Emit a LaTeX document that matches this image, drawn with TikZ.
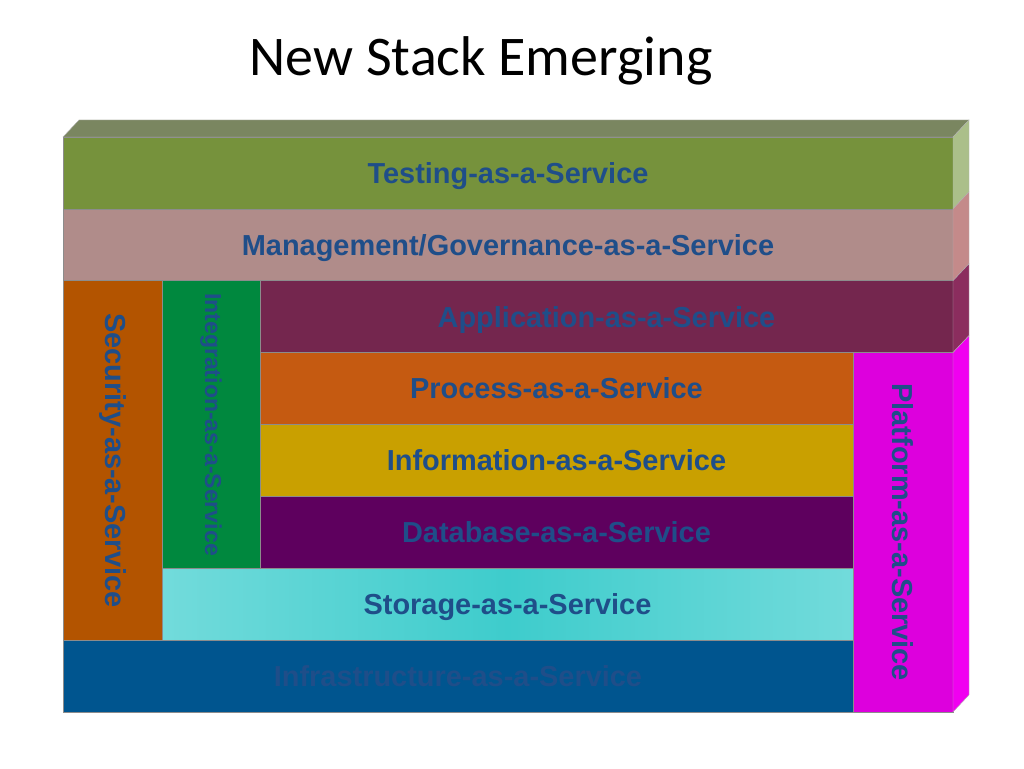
\documentclass[tikz,border=0pt]{standalone}
\usepackage{fontspec}
\usepackage{graphicx}
\usetikzlibrary{positioning}
\newfontfamily\titlefont{Carlito}
\newfontfamily\labelfont{Liberation Sans}

\definecolor{txtblue}{HTML}{1F4E89}
\definecolor{topface}{HTML}{7A8660}
\definecolor{testgreen}{HTML}{76923C}
\definecolor{testside}{HTML}{ABBF8A}
\definecolor{mgmtrose}{HTML}{B08C8A}
\definecolor{mgmtside}{HTML}{C48A8A}
\definecolor{appwine}{HTML}{74264E}
\definecolor{appside}{HTML}{8B2D5E}
\definecolor{procorange}{HTML}{C55A11}
\definecolor{infomustard}{HTML}{C9A000}
\definecolor{dbpurple}{HTML}{5E005E}
\definecolor{storcyan}{HTML}{3ECCCC}
\definecolor{storlight}{HTML}{72DBDB}
\definecolor{infrablue}{HTML}{00558F}
\definecolor{secorange}{HTML}{B35400}
\definecolor{intgreen}{HTML}{00883E}
\definecolor{platmagenta}{HTML}{DD00DD}
\definecolor{platside}{HTML}{F000F0}

\begin{document}
\begin{tikzpicture}[
    x=1pt, y=1pt,
    node distance=0pt,
    layer/.style={
        rectangle,
        draw=black!45,
        line width=0.4pt,
        inner sep=0pt,
        outer sep=0pt,
        minimum height=53.9pt,
        text height=15.6pt,
        text depth=0pt,
        text=txtblue,
        font=\labelfont\bfseries\fontsize{21.7}{26}\selectfont
    },
    column/.style={
        layer,
        text height={},
        text depth={},
        minimum width=74.25pt
    },
    side/.style={draw=black!30, line width=0.3pt}
]
    \useasboundingbox (0,0) rectangle (768,576);

    % Titel
    \node (title) at (360.75,530) {\titlefont\fontsize{42}{50}\selectfont New Stack Emerging};

    % Schichten
    \node (testing) [layer, fill=testgreen, minimum width=667.5pt, anchor=north west] at (47.25,473.25) {Testing-as-a-Service};
    \node (mgmt) [layer, fill=mgmtrose, minimum width=667.5pt, below=of testing] {Management/Governance-as-a-Service};
    \node (app) [layer, fill=appwine, minimum width=519.75pt, below=of mgmt.south east, anchor=north east] {Application-as-a-Service};
    \node (security) [column, fill=secorange, minimum height=269.5pt, below=of mgmt.south west, anchor=north west] {\rotatebox{-90}{Security-as-a-Service}};
    \node (integration) [column, fill=intgreen, minimum width=73.5pt, minimum height=215.6pt, right=of security.north east, anchor=north west,
        font=\labelfont\bfseries\fontsize{17.3}{20}\selectfont] {\rotatebox{-90}{Integration-as-a-Service}};
    \node (process) [layer, fill=procorange, minimum width=444.75pt, below=of app.south west, anchor=north west] {Process-as-a-Service};
    \node (info) [layer, fill=infomustard, minimum width=444.75pt, below=of process] {Information-as-a-Service};
    \node (database) [layer, fill=dbpurple, minimum width=444.75pt, below=of info] {Database-as-a-Service};
    \node (storage) [layer, left color=storlight, right color=storlight, middle color=storcyan, minimum width=518.25pt,
        below=of integration.south west, anchor=north west] {Storage-as-a-Service};
    \node (infra) [layer, fill=infrablue, minimum width=592.5pt, below=of security.south west, anchor=north west] {Infrastructure-as-a-Service};
    \node (platform) [column, fill=platmagenta, minimum width=75pt, minimum height=269.5pt, below=of app.south east, anchor=north east] {\rotatebox{-90}{Platform-as-a-Service}};

    % Tiefe (Oberseite und rechte Seiten)
    \fill [topface, side] (testing.north west) -- ++(12,12.75) -- ([shift={(12,12.75)}]testing.north east) -- (testing.north east) -- cycle;
    \fill [testside, side] (testing.north east) -- ++(12,12.75) -- ([shift={(12,12.75)}]testing.south east) -- (testing.south east) -- cycle;
    \fill [mgmtside, side] (mgmt.north east) -- ++(12,12.75) -- ([shift={(12,12.75)}]mgmt.south east) -- (mgmt.south east) -- cycle;
    \fill [appside, side] (app.north east) -- ++(12,12.75) -- ([shift={(12,12.75)}]app.south east) -- (app.south east) -- cycle;
    \fill [platside, side] (platform.north east) -- ++(12,12.75) -- ([shift={(12,12.75)}]platform.south east) -- (platform.south east) -- cycle;
\end{tikzpicture}
\end{document}
